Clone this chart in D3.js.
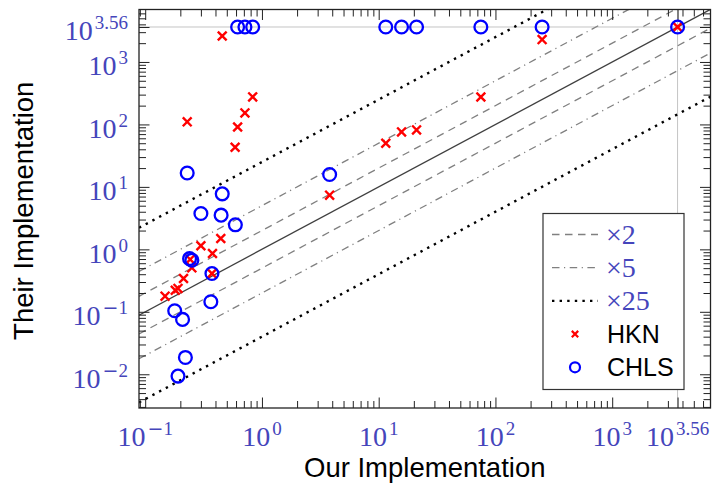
<!DOCTYPE html>
<html>
<head>
<meta charset="utf-8">
<script src="https://cdn.jsdelivr.net/npm/d3@7"></script>
<style>
  html, body { margin: 0; padding: 0; background: #fff; }
  svg { display: block; }
</style>
</head>
<body>
<svg id="chart" width="714" height="488"></svg>
<script>
// Runtimes (our implementation vs. theirs), both on log scales.
const hknOurs   = [0.148, 0.181, 0.191, 0.213, 0.243, 0.251, 0.30, 0.373, 0.377, 0.444,
                   0.589, 0.619, 0.715, 0.833, 0.229, 0.457, 3.80, 11.5, 15.7, 21.1, 75, 251, 3630.8];
const hknTheirs = [0.178, 0.222, 0.237, 0.342, 0.69, 0.506, 1.14, 0.41, 0.86, 1.49,
                   43.2, 91, 153, 276, 110, 2606, 7.37, 50, 75.9, 81.7, 275, 2282, 3630.8];

const chlsOurs   = [0.619, 0.715, 0.833, 11.5, 15.7, 21.1, 75, 251, 3630.8,
                    0.229, 0.457, 0.30, 0.447, 0.592, 3.80, 0.24, 0.251, 0.373, 0.365,
                    0.179, 0.209, 0.221, 0.191];
const chlsTheirs = [3630.8, 3630.8, 3630.8, 3630.8, 3630.8, 3630.8, 3630.8, 3630.8, 3630.8,
                    16.7, 7.73, 3.75, 3.53, 2.47, 15.8, 0.71, 0.67, 0.41, 0.145,
                    0.104, 0.0756, 0.0186, 0.00935];

// Reference lines y = r·x
const ratioLines = [
  { r: 1,  style: "solid"  },
  { r: 2,  style: "dashed" }, { r: 1 / 2,  style: "dashed" },
  { r: 5,  style: "dashdot"}, { r: 1 / 5,  style: "dashdot"},
  { r: 25, style: "dotted" }, { r: 1 / 25, style: "dotted" }
];

// Tick exponents (labels are 10^e)
const xTickExps = ["-1", "0", "1", "2", "3", "3.56"];
const yTickExps = ["-2", "-1", "0", "1", "2", "3", "3.56"];
const capExp = 3.56;

const legendItems = [
  { kind: "line", style: "dashed",  label: "×2" },
  { kind: "line", style: "dashdot", label: "×5" },
  { kind: "line", style: "dotted",  label: "×25" },
  { kind: "hkn",  label: "HKN" },
  { kind: "chls", label: "CHLS" }
];

const plot = { left: 139, right: 710.5, top: 9.5, bottom: 408 };
const tickBlue = "#4545bb";
const serif = "'Liberation Serif', 'DejaVu Serif', serif";
const sans = "'Liberation Sans', Arial, sans-serif";
const labelSize = 28, supSize = 19;

const x = d3.scaleLog().domain([Math.pow(10, -1.053), Math.pow(10, 3.842)])
  .range([plot.left, plot.right]);
const y = d3.scaleLog().domain([Math.pow(10, -2.54), Math.pow(10, 3.84)])
  .range([plot.bottom, plot.top]);

const svg = d3.select("#chart");

svg.append("defs").append("clipPath").attr("id", "plotClip")
  .append("rect")
  .attr("x", plot.left).attr("y", plot.top)
  .attr("width", plot.right - plot.left).attr("height", plot.bottom - plot.top);

const dashFor = {
  solid:   null,
  dashed:  "7.5,5.5",
  dashdot: "7.5,4.5,1.2,4.5",
  dotted:  "2.4,5.2"
};
const colorFor = { solid: "#404040", dashed: "#808080", dashdot: "#808080", dotted: "#000" };
const widthFor = { solid: 1.3, dashed: 1.3, dashdot: 1.3, dotted: 2.4 };

// Grid lines at the capped value
const cap = Math.pow(10, capExp);
const grid = svg.append("g");
grid.append("line")
  .attr("x1", x(cap)).attr("x2", x(cap))
  .attr("y1", plot.top).attr("y2", plot.bottom)
  .attr("stroke", "#c4c4c4").attr("stroke-width", 1);
grid.append("line")
  .attr("x1", plot.left).attr("x2", plot.right)
  .attr("y1", y(cap)).attr("y2", y(cap))
  .attr("stroke", "#c4c4c4").attr("stroke-width", 1);

// Ratio lines
const xd = x.domain();
const lines = svg.append("g").attr("clip-path", "url(#plotClip)");
lines.selectAll("line").data(ratioLines).join("line")
  .attr("x1", x(xd[0])).attr("x2", x(xd[1]))
  .attr("y1", d => y(xd[0] * d.r)).attr("y2", d => y(xd[1] * d.r))
  .attr("stroke", d => colorFor[d.style])
  .attr("stroke-width", d => widthFor[d.style])
  .attr("stroke-dasharray", d => dashFor[d.style]);

// Axis ticks (inward on all four sides) via d3 axes
function logTickValues(scale) {
  const [a, b] = scale.domain();
  const major = [], minor = [];
  for (let e = Math.floor(Math.log10(a)); e <= Math.ceil(Math.log10(b)); e++) {
    for (let m = 1; m <= 9; m++) {
      const v = m * Math.pow(10, e);
      if (v >= a && v <= b) (m === 1 ? major : minor).push(v);
    }
  }
  return { major, minor };
}
const xt = logTickValues(x), yt = logTickValues(y);
const xMajor = xt.major.concat([cap]), yMajor = yt.major.concat([cap]);
const tickColor = "#222";

function drawAxis(gen, tr, values, len) {
  const g = svg.append("g").attr("transform", tr)
    .call(gen.tickValues(values).tickSize(len).tickFormat(""));
  g.select(".domain").remove();
  g.selectAll(".tick line").attr("stroke", tickColor).attr("stroke-width", 1);
}
// bottom / top
drawAxis(d3.axisTop(x), `translate(0,${plot.bottom})`, xMajor, 10.5);
drawAxis(d3.axisTop(x), `translate(0,${plot.bottom})`, xt.minor, 7);
drawAxis(d3.axisBottom(x), `translate(0,${plot.top})`, xMajor, 10.5);
drawAxis(d3.axisBottom(x), `translate(0,${plot.top})`, xt.minor, 7);
// left / right
drawAxis(d3.axisRight(y), `translate(${plot.left},0)`, yMajor, 10.5);
drawAxis(d3.axisRight(y), `translate(${plot.left},0)`, yt.minor, 7);
drawAxis(d3.axisLeft(y), `translate(${plot.right},0)`, yMajor, 10.5);
drawAxis(d3.axisLeft(y), `translate(${plot.right},0)`, yt.minor, 7);

// Frame
svg.append("rect")
  .attr("x", plot.left).attr("y", plot.top)
  .attr("width", plot.right - plot.left).attr("height", plot.bottom - plot.top)
  .attr("fill", "none").attr("stroke", tickColor).attr("stroke-width", 1.3);

// Tick labels 10^e (a wide math minus for negative exponents)
function powerLabel(sel, e) {
  sel.append("tspan").text("10");
  const neg = e.startsWith("-");
  if (neg) {
    sel.append("tspan").attr("dx", 2).attr("dy", -11).attr("font-size", supSize)
      .attr("font-family", "'DejaVu Serif', serif").text("\u2212");
    sel.append("tspan").attr("font-size", supSize).text(e.slice(1));
  } else {
    sel.append("tspan").attr("dx", 2).attr("dy", -11).attr("font-size", supSize).text(e);
  }
}
const xl = svg.append("g").attr("fill", tickBlue)
  .attr("font-family", serif).attr("font-size", labelSize);
xTickExps.forEach(e => {
  const t = xl.append("text")
    .attr("x", x(Math.pow(10, +e)))
    .attr("y", 446)
    .attr("text-anchor", "middle");
  powerLabel(t, e);
});
const yl = svg.append("g").attr("fill", tickBlue)
  .attr("font-family", serif).attr("font-size", labelSize);
yTickExps.forEach(e => {
  const t = yl.append("text")
    .attr("x", 128)
    .attr("y", y(Math.pow(10, +e)) + 13.5)
    .attr("text-anchor", "end");
  powerLabel(t, e);
});

// Axis titles
svg.append("text")
  .attr("x", (plot.left + plot.right) / 2).attr("y", 477)
  .attr("text-anchor", "middle")
  .attr("font-family", sans).attr("font-size", 27.5).attr("fill", "#000")
  .text("Our Implementation");
svg.append("text")
  .attr("transform", `translate(33,${(plot.top + plot.bottom) / 2 + 2}) rotate(-90)`)
  .attr("text-anchor", "middle")
  .attr("font-family", sans).attr("font-size", 27.5).attr("fill", "#000")
  .text("Their Implementation");

// Markers
function crossPath(s) {
  return `M${-s},${-s}L${s},${s}M${-s},${s}L${s},${-s}`;
}
const hkn = hknOurs.map((v, i) => ({ ours: v, theirs: hknTheirs[i] }));
const chls = chlsOurs.map((v, i) => ({ ours: v, theirs: chlsTheirs[i] }));

svg.append("g").selectAll("path").data(hkn).join("path")
  .attr("transform", d => `translate(${x(d.ours)},${y(d.theirs)})`)
  .attr("d", crossPath(4.4))
  .attr("stroke", "#ff0000").attr("stroke-width", 2.4).attr("fill", "none");

svg.append("g").selectAll("circle").data(chls).join("circle")
  .attr("cx", d => x(d.ours)).attr("cy", d => y(d.theirs))
  .attr("r", 6.4)
  .attr("stroke", "#0000ff").attr("stroke-width", 2.3).attr("fill", "none");

// Legend
const lg = svg.append("g");
lg.append("rect")
  .attr("x", 543).attr("y", 213.5).attr("width", 141).attr("height", 176)
  .attr("fill", "#fff").attr("stroke", "#333").attr("stroke-width", 1.2);
legendItems.forEach((it, i) => {
  const cy = 234.5 + i * 33.2;
  if (it.kind === "line") {
    lg.append("line")
      .attr("x1", 552).attr("x2", 598).attr("y1", cy).attr("y2", cy)
      .attr("stroke", colorFor[it.style]).attr("stroke-width", widthFor[it.style])
      .attr("stroke-dasharray", dashFor[it.style]);
    lg.append("text").attr("x", 606).attr("y", cy + 9.5)
      .attr("font-family", serif).attr("font-size", labelSize).attr("fill", tickBlue)
      .text(it.label);
  } else {
    if (it.kind === "hkn") {
      lg.append("path").attr("transform", `translate(575,${cy})`)
        .attr("d", crossPath(3.2))
        .attr("stroke", "#ff0000").attr("stroke-width", 2.2).attr("fill", "none");
    } else {
      lg.append("circle").attr("cx", 575).attr("cy", cy).attr("r", 5)
        .attr("stroke", "#0000ff").attr("stroke-width", 2.2).attr("fill", "none");
    }
    lg.append("text").attr("x", 607).attr("y", cy + 9)
      .attr("font-family", sans).attr("font-size", 25).attr("fill", "#000")
      .text(it.label);
  }
});
</script>
</body>
</html>
